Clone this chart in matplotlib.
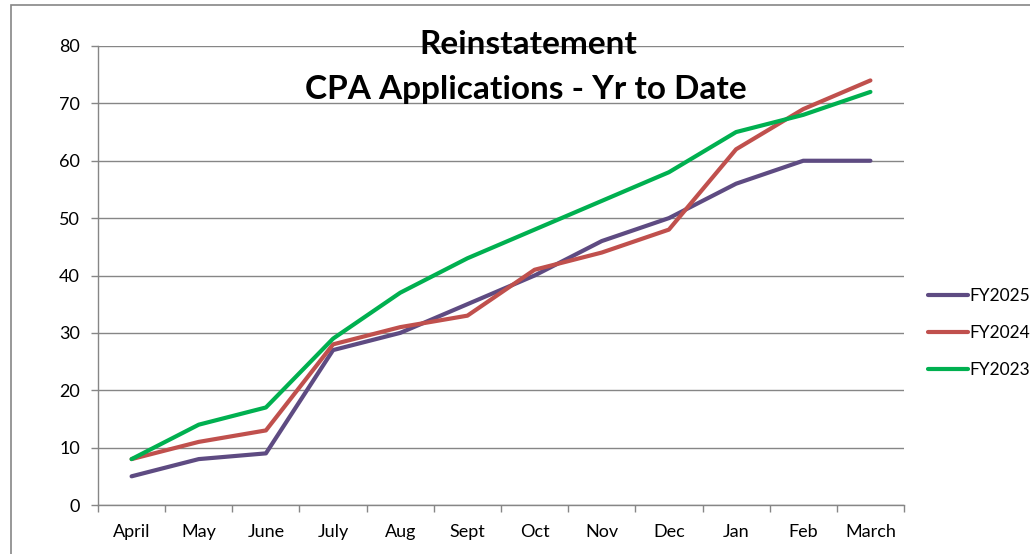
import matplotlib
matplotlib.use("Agg")
import matplotlib.pyplot as plt
from matplotlib.patches import Rectangle

months = ["April", "May", "June", "July", "Aug", "Sept", "Oct", "Nov", "Dec", "Jan", "Feb", "March"]
fy2025 = [5, 8, 9, 27, 30, 35, 40, 46, 50, 56, 60, 60]
fy2024 = [8, 11, 13, 28, 31, 33, 41, 44, 48, 62, 69, 74]
fy2023 = [8, 14, 17, 29, 37, 43, 48, 53, 58, 65, 68, 72]
series_names = ["FY2025", "FY2024", "FY2023"]
title_lines = ["Reinstatement", "CPA Applications - Yr to Date"]

plt.rcParams['font.family'] = ['Lato', 'DejaVu Sans']

W, H = 1030, 554
fig = plt.figure(figsize=(W / 100, H / 100), dpi=100)
ax = fig.add_axes([98 / W, 1 - 505 / H, (904 - 98) / W, (505 - 46) / H])

grid_c = "#868686"
colors = ["#5E4B82", "#C0504D", "#00B050"]
x = list(range(len(months)))
for vals, name, c in zip([fy2025, fy2024, fy2023], series_names, colors):
    ax.plot(x, vals, color=c, lw=3, label=name, solid_capstyle='round', solid_joinstyle='round')

ax.set_xlim(-0.5, len(months) - 0.5)
ax.set_ylim(0, 80)
ax.set_yticks(range(0, 81, 10))
ax.set_xticks(x)
ax.set_xticklabels(months)
ax.set_xticks([i - 0.5 for i in range(len(months) + 1)], minor=True)
ax.tick_params(axis='x', which='major', length=0, pad=14, labelsize=13, colors='black')
ax.tick_params(axis='x', which='minor', length=5, color=grid_c, width=1)
ax.tick_params(axis='y', length=5, color=grid_c, width=1, labelsize=13, pad=8)
ax.grid(axis='y', color=grid_c, lw=1)
ax.set_axisbelow(True)
for s in ['top', 'right']:
    ax.spines[s].set_visible(False)
for s in ['left', 'bottom']:
    ax.spines[s].set_color(grid_c)
    ax.spines[s].set_linewidth(1)

fig.text(528 / W, 1 - 45 / H, title_lines[0], ha='center', va='center', fontsize=24, fontweight='bold')
fig.text(526 / W, 1 - 89 / H, title_lines[1], ha='center', va='center', fontsize=24, fontweight='bold')

leg = fig.legend(loc='center left', bbox_to_anchor=(919 / W, 1 - 333 / H), frameon=False,
                 borderpad=0, handlelength=2.3, handletextpad=0.1, labelspacing=1.2, fontsize=12.5)

fig.add_artist(Rectangle((11 / W, -0.05), 1.5, 1.05 - 5 / H, transform=fig.transFigure,
                         fill=False, edgecolor=grid_c, lw=1.2))

fig.savefig("out.png", dpi=100)
